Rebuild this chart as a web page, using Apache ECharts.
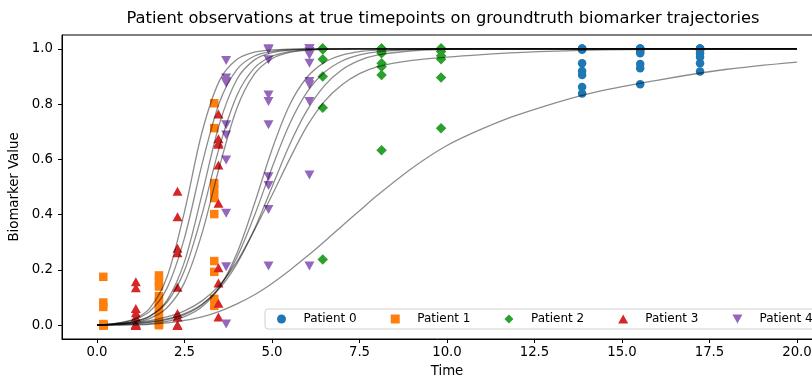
<!DOCTYPE html>
<html>
<head>
<meta charset="utf-8">
<script src="https://cdn.jsdelivr.net/npm/echarts@6/dist/echarts.min.js"></script>
<style>
  html, body { margin: 0; padding: 0; background: #fff; }
  #chart { width: 812px; height: 379px; }
</style>
</head>
<body>
<div id="chart"></div>
<script>
// tick labels
const xTicks = [0, 2.5, 5, 7.5, 10, 12.5, 15, 17.5, 20];
const yTicks = [0, 0.2, 0.4, 0.6, 0.8, 1.0];

// groundtruth trajectories at these times
const curveTimes = [0, 0.5, 1, 1.5, 2, 2.5, 3, 3.5, 4, 4.5, 5, 5.5, 6, 6.5, 7, 7.5, 8, 9, 10, 11, 12, 14, 16, 18, 20];
const curveA1 = [0, 0.006, 0.019, 0.06, 0.174, 0.411, 0.698, 0.885, 0.962, 0.988, 0.996, 0.999, 1, 1, 1, 1, 1, 1, 1, 1, 1, 1, 1, 1, 1];
const curveA2 = [0, 0.006, 0.017, 0.049, 0.134, 0.316, 0.582, 0.807, 0.926, 0.974, 0.991, 0.997, 0.999, 1, 1, 1, 1, 1, 1, 1, 1, 1, 1, 1, 1];
const curveA3 = [0, 0.004, 0.011, 0.032, 0.09, 0.23, 0.473, 0.729, 0.89, 0.96, 0.986, 0.995, 0.998, 0.999, 1, 1, 1, 1, 1, 1, 1, 1, 1, 1, 1];
const curveA4 = [0, 0.005, 0.012, 0.032, 0.083, 0.198, 0.401, 0.646, 0.832, 0.931, 0.973, 0.99, 0.996, 0.999, 0.999, 1, 1, 1, 1, 1, 1, 1, 1, 1, 1];
const curveA5 = [0, 0.003, 0.009, 0.024, 0.063, 0.154, 0.332, 0.574, 0.786, 0.909, 0.964, 0.987, 0.995, 0.998, 0.999, 1, 1, 1, 1, 1, 1, 1, 1, 1, 1];
const curveB1 = [0, 0.001, 0.003, 0.006, 0.014, 0.031, 0.067, 0.137, 0.261, 0.44, 0.636, 0.796, 0.897, 0.951, 0.977, 0.99, 0.995, 0.999, 1, 1, 1, 1, 1, 1, 1];
const curveB2 = [0, 0.002, 0.005, 0.01, 0.02, 0.038, 0.074, 0.139, 0.246, 0.397, 0.57, 0.727, 0.843, 0.915, 0.956, 0.978, 0.989, 0.997, 0.999, 1, 1, 1, 1, 1, 1];
const curveB3 = [0, 0.004, 0.007, 0.012, 0.023, 0.042, 0.076, 0.133, 0.223, 0.348, 0.5, 0.652, 0.777, 0.867, 0.924, 0.958, 0.977, 0.993, 0.998, 1, 1, 1, 1, 1, 1];
const curveB4 = [0, 0.003, 0.008, 0.016, 0.03, 0.052, 0.088, 0.145, 0.23, 0.345, 0.47, 0.6, 0.72, 0.81, 0.87, 0.91, 0.935, 0.958, 0.97, 0.979, 0.986, 0.995, 0.998, 0.999, 1];
const curveC = [0, 0, 0.001, 0.003, 0.008, 0.017, 0.03, 0.05, 0.077, 0.11, 0.151, 0.198, 0.249, 0.303, 0.359, 0.414, 0.469, 0.568, 0.65, 0.71, 0.76, 0.836, 0.886, 0.926, 0.952];

// patient observations: visit times and the ten biomarker values seen at each
const patient0Times = [13.86, 15.52, 17.23];
const patient0Values = [
    [1, 1, 1, 1, 0.997, 0.948, 0.92, 0.905, 0.862, 0.838],
    [1, 1, 1, 1, 1, 0.99, 0.984, 0.945, 0.93, 0.872],
    [1, 1, 1, 1, 1, 0.995, 0.984, 0.97, 0.948, 0.918],
];
const patient1Times = [0.18, 1.77, 3.35];
const patient1Values = [
    [0.175, 0.082, 0.066, 0, 0, 0, 0, 0, 0.004, 0],
    [0.18, 0.16, 0.14, 0.105, 0.085, 0.062, 0.04, 0.02, 0.005, 0],
    [0.803, 0.713, 0.514, 0.49, 0.46, 0.402, 0.232, 0.193, 0.095, 0.07],
];
const patient2Times = [6.45, 8.13, 9.83];
const patient2Values = [
    [1, 1, 1, 1, 1, 0.998, 0.962, 0.9, 0.787, 0.238],
    [1, 1, 1, 1, 0.99, 0.984, 0.948, 0.935, 0.905, 0.633],
    [1, 1, 1, 1, 1, 0.99, 0.975, 0.962, 0.896, 0.713],
];
const patient3Times = [1.11, 2.3, 3.47];
const patient3Values = [
    [0.157, 0.135, 0.06, 0.045, 0.03, 0.005, 0, 0, 0, 0],
    [0.485, 0.392, 0.278, 0.262, 0.137, 0.042, 0.03, 0, 0, 0],
    [0.764, 0.675, 0.66, 0.655, 0.58, 0.441, 0.208, 0.153, 0.079, 0.03],
];
const patient4Times = [3.69, 4.9, 6.07];
const patient4Values = [
    [0.958, 0.894, 0.882, 0.876, 0.725, 0.688, 0.598, 0.405, 0.211, 0.004],
    [1, 0.997, 0.96, 0.833, 0.809, 0.725, 0.537, 0.505, 0.419, 0.214],
    [1, 1, 0.99, 0.978, 0.948, 0.882, 0.87, 0.809, 0.543, 0.214],
];

const FONT = "DejaVu Sans";
const chart = echarts.init(document.getElementById("chart"), null, { renderer: "canvas" });

const curves = [curveA1, curveA2, curveA3, curveA4, curveA5, curveB1, curveB2, curveB3, curveB4, curveC];
const lineSeries = curves.map((c) => ({
    type: "line",
    data: curveTimes.map((t, i) => [t, c[i]]),
    smooth: 0.3,
    showSymbol: false,
    silent: true,
    z: 3,
    lineStyle: { color: "#000", opacity: 0.45, width: 1.3 },
}));

const toPoints = (times, values) =>
    times.flatMap((t, i) => values[i].map((v) => [t, v]));

// path symbols so the legend keeps their aspect
const patients = [
    { name: "Patient 0", times: patient0Times, values: patient0Values, color: "#1f77b4", symbol: "circle", size: 8.5 },
    { name: "Patient 1", times: patient1Times, values: patient1Values, color: "#ff7f0e", symbol: "path://M0,0H10V10H0Z", size: 8.5 },
    { name: "Patient 2", times: patient2Times, values: patient2Values, color: "#2ca02c", symbol: "path://M5,0L10,5L5,10L0,5Z", size: 10.5 },
    { name: "Patient 3", times: patient3Times, values: patient3Values, color: "#d62728", symbol: "path://M5,0L10,9L0,9Z", size: [10, 9] },
    { name: "Patient 4", times: patient4Times, values: patient4Values, color: "#9467bd", symbol: "path://M0,0L10,0L5,9Z", size: [10, 9] },
];

const scatterSeries = patients.map((p) => ({
    name: p.name,
    type: "scatter",
    data: toPoints(p.times, p.values),
    symbol: p.symbol,
    symbolSize: p.size,
    z: 2,
    itemStyle: { color: p.color, opacity: 1 },
}));

chart.setOption({
    animation: false,
    backgroundColor: "#fff",
    textStyle: { fontFamily: FONT },
    title: {
        text: "Patient observations at true timepoints on groundtruth biomarker trajectories",
        left: 443,
        top: 11,
        padding: 0,
        textAlign: "center",
        textStyle: { fontFamily: FONT, fontSize: 16.3, fontWeight: "normal", color: "#000" },
    },
    grid: {
        left: 62, right: -20, top: 35, bottom: 40,
        outerBoundsMode: "none",
        show: true, borderColor: "#000", borderWidth: 1, backgroundColor: "transparent",
    },
    legend: {
        data: patients.map((p) => p.name),
        left: 265,
        top: 309,
        width: 640,
        orient: "horizontal",
        padding: [4, 5, 4, 12],
        itemWidth: 34,
        itemHeight: 9,
        itemGap: 34,
        borderColor: "#d0d0d0",
        borderWidth: 1,
        borderRadius: 3,
        backgroundColor: "rgba(255,255,255,0.85)",
        textStyle: { fontFamily: FONT, fontSize: 12, color: "#000" },
    },
    xAxis: {
        type: "value",
        min: -1,
        max: 21,
        name: "Time",
        nameLocation: "middle",
        nameGap: 26,
        nameTextStyle: { fontFamily: FONT, fontSize: 13.3, color: "#000" },
        axisLine: { show: true, onZero: false, lineStyle: { color: "#000" } },
        axisTick: { show: true, length: 4, lineStyle: { color: "#000" }, customValues: xTicks },
        axisLabel: {
            color: "#000", fontSize: 13.3, margin: 7, fontFamily: FONT,
            customValues: xTicks,
            formatter: (v) => v.toFixed(1),
        },
        splitLine: { show: false },
    },
    yAxis: {
        type: "value",
        min: -0.05,
        max: 1.05,
        name: "Biomarker Value",
        nameLocation: "middle",
        nameGap: 38,
        nameTextStyle: { fontFamily: FONT, fontSize: 13.3, color: "#000" },
        axisLine: { show: true, onZero: false, lineStyle: { color: "#000" } },
        axisTick: { show: true, length: 4, lineStyle: { color: "#000" }, customValues: yTicks },
        axisLabel: {
            color: "#000", fontSize: 13.3, margin: 9, fontFamily: FONT,
            customValues: yTicks,
            formatter: (v) => v.toFixed(1),
        },
        splitLine: { show: false },
    },
    series: [...scatterSeries, ...lineSeries],
});
</script>
</body>
</html>
